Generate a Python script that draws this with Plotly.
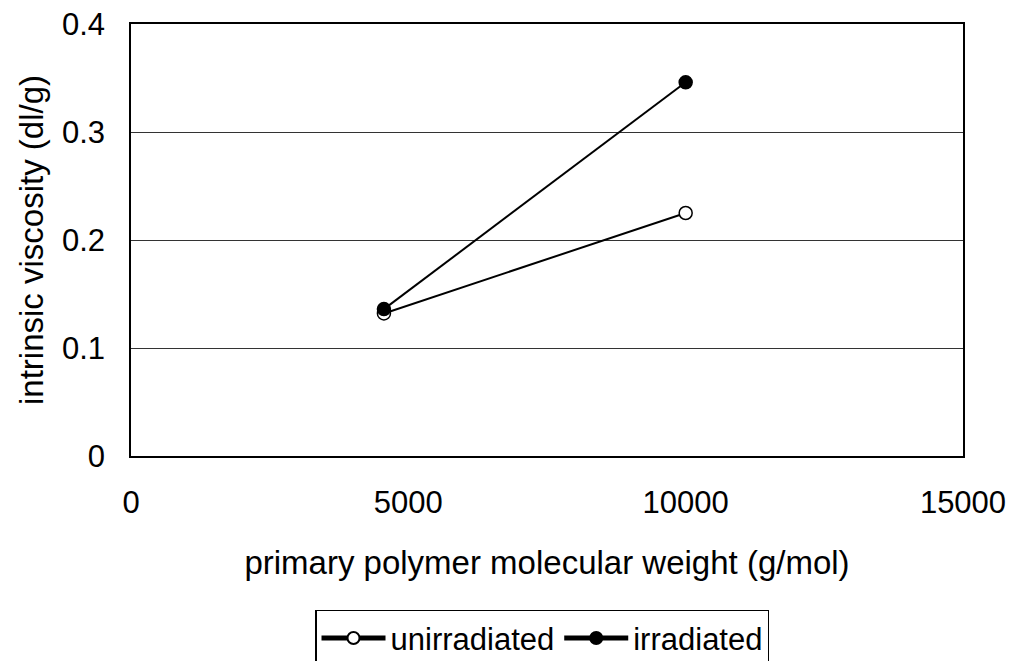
import plotly.graph_objects as go

mw = [4560, 10000]
unirradiated = [0.132, 0.225]
irradiated = [0.136, 0.346]

FONT = "Liberation Sans, Arial, sans-serif"

fig = go.Figure()
fig.add_trace(go.Scatter(
    x=mw, y=unirradiated, name="unirradiated", mode="lines+markers",
    line=dict(color="black", width=2),
    marker=dict(symbol="circle", size=13, color="white", line=dict(color="black", width=1.5)),
))
fig.add_trace(go.Scatter(
    x=mw, y=irradiated, name="irradiated", mode="lines+markers",
    line=dict(color="black", width=2),
    marker=dict(symbol="circle", size=13, color="black", line=dict(color="black", width=1.5)),
))

fig.update_layout(
    width=1016, height=661,
    margin=dict(l=131, r=53, t=24, b=205, autoexpand=False),
    paper_bgcolor="white", plot_bgcolor="white",
    font=dict(family=FONT, size=31, color="black"),
    showlegend=True,
    legend=dict(
        orientation="h", x=0.494, xanchor="center", y=-0.356, yanchor="top",
        bordercolor="black", borderwidth=1.5, font=dict(size=31),
        itemsizing="constant", itemwidth=64, tracegroupgap=0,
    ),
    xaxis=dict(
        range=[0, 15000], dtick=5000, tick0=0, tickformat="d",
        showgrid=False, zeroline=False, automargin=False,
        showline=True, linecolor="black", linewidth=1.5, mirror=True,
        ticks="", ticklabelstandoff=18,
        title=dict(text="primary polymer molecular weight (g/mol)", standoff=32, font=dict(size=33)),
    ),
    yaxis=dict(
        range=[0, 0.4], dtick=0.1, tick0=0,
        showgrid=True, gridcolor="#333333", gridwidth=1, zeroline=False, automargin=False,
        showline=True, linecolor="black", linewidth=1.5, mirror=True,
        ticks="", ticklabelstandoff=18,
        title=dict(text="intrinsic viscosity (dl/g)", standoff=8, font=dict(size=33)),
    ),
)

fig.write_html("out.html")
